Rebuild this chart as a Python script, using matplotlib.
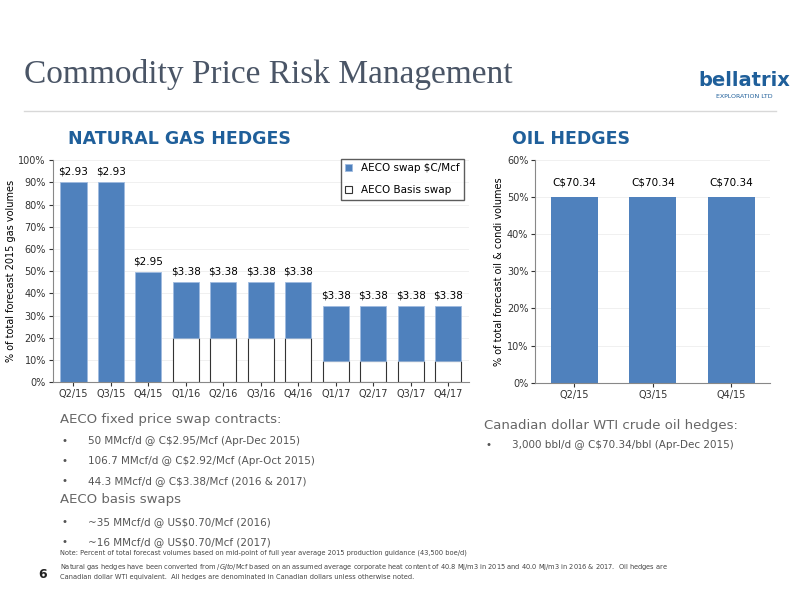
import matplotlib
matplotlib.use("Agg")
import matplotlib.pyplot as plt
import numpy as np

gas_q = ["Q2/15","Q3/15","Q4/15","Q1/16","Q2/16","Q3/16","Q4/16","Q1/17","Q2/17","Q3/17","Q4/17"]
gas_total = [90,90,49.5,45,45,45,45,34.5,34.5,34.5,34.5]
gas_basis = [0,0,0,20,20,20,20,9.5,9.5,9.5,9.5]
gas_labels = ["$2.93","$2.93","$2.95","$3.38","$3.38","$3.38","$3.38","$3.38","$3.38","$3.38","$3.38"]
oil_q = ["Q2/15","Q3/15","Q4/15"]
oil_vals = [50,50,50]
oil_labels = ["C$70.34","C$70.34","C$70.34"]

BLUE = "#4f81bd"
fig = plt.figure(figsize=(8,6), dpi=100)
fig.patch.set_facecolor("white")
fig.text(0.03, 0.875, "Commodity Price Risk Management", family="Liberation Serif", fontsize=24, color="#4a5566", va="center")
fig.text(0.93, 0.865, "bellatrix", fontsize=14, color="#1f5f9a", ha="center", va="center", weight="bold")
fig.text(0.93, 0.84, "EXPLORATION LTD", fontsize=4.5, color="#1f5f9a", ha="center", va="center")
fig.add_artist(plt.Line2D([0.03,0.97],[0.815,0.815], color="#d8d8d8", lw=1))
fig.text(0.085, 0.768, "NATURAL GAS HEDGES", fontsize=12.5, weight="bold", color="#1f5f9a", va="center")
fig.text(0.64, 0.768, "OIL HEDGES", fontsize=12.5, weight="bold", color="#1f5f9a", va="center")

def style(ax, ylabel):
    for s in ["top","right"]:
        ax.spines[s].set_visible(False)
    ax.spines["left"].set_color("#888888"); ax.spines["bottom"].set_color("#888888")
    ax.yaxis.grid(True, color="#eeeeee", lw=0.6); ax.set_axisbelow(True)
    ax.set_ylabel(ylabel, fontsize=7, labelpad=2)
    ax.tick_params(labelsize=7, length=3, colors="#333333", pad=2)
    ax.yaxis.set_major_formatter(matplotlib.ticker.FuncFormatter(lambda v,p: f"{v:.0f}%"))

ax = fig.add_axes([0.066, 0.363, 0.52, 0.37])
x = np.arange(len(gas_q))
swap = np.array(gas_total) - np.array(gas_basis)
ax.bar(x, gas_basis, width=0.7, color="white", edgecolor="#333333", lw=0.8, label="AECO Basis swap")
ax.bar(x, swap, bottom=gas_basis, width=0.7, color=BLUE, edgecolor="#9fbbe0", lw=0.6, label="AECO swap $C/Mcf")
for i, t in enumerate(gas_labels):
    ax.text(x[i], gas_total[i]+2.5, t, ha="center", va="bottom", fontsize=7.5)
ax.set_xticks(x, gas_q); ax.set_xlim(-0.55, len(gas_q)-0.45)
ax.set_ylim(0, 100); ax.set_yticks(range(0,101,10))
style(ax, "% of total forecast 2015 gas volumes")
h, l = ax.get_legend_handles_labels()
ax.legend(h[::-1], l[::-1], loc="upper right", bbox_to_anchor=(1.0, 1.03), fontsize=7.5, frameon=True, fancybox=False, edgecolor="#333333", handlelength=0.7, labelspacing=1.2)

ax2 = fig.add_axes([0.669, 0.362, 0.294, 0.372])
x2 = np.arange(len(oil_q))
ax2.bar(x2, oil_vals, width=0.6, color=BLUE)
for i, t in enumerate(oil_labels):
    ax2.text(x2[i], oil_vals[i]+2.5, t, ha="center", va="bottom", fontsize=7.5)
ax2.set_xticks(x2, oil_q); ax2.set_xlim(-0.5, 2.5)
ax2.set_ylim(0, 60); ax2.set_yticks(range(0,61,10))
style(ax2, "% of total forecast oil & condi volumes")

G = "#555555"
fig.text(0.075, 0.30, "AECO fixed price swap contracts:", fontsize=9.5, color="#666666", va="center")
lines = [(0.265,"50 MMcf/d @ C$2.95/Mcf (Apr-Dec 2015)"),(0.232,"106.7 MMcf/d @ C$2.92/Mcf (Apr-Oct 2015)"),(0.198,"44.3 MMcf/d @ C$3.38/Mcf (2016 & 2017)")]
for y, t in lines:
    fig.text(0.077, y, "•", fontsize=7.5, color=G, va="center"); fig.text(0.11, y, t, fontsize=7.5, color=G, va="center")
fig.text(0.075, 0.167, "AECO basis swaps", fontsize=9.5, color="#666666", va="center")
for y, t in [(0.13,"~35 MMcf/d @ US$0.70/Mcf (2016)"),(0.097,"~16 MMcf/d @ US$0.70/Mcf (2017)")]:
    fig.text(0.077, y, "•", fontsize=7.5, color=G, va="center"); fig.text(0.11, y, t, fontsize=7.5, color=G, va="center")
fig.text(0.605, 0.29, "Canadian dollar WTI crude oil hedges:", fontsize=9.5, color="#666666", va="center")
fig.text(0.607, 0.258, "•", fontsize=7.5, color=G, va="center"); fig.text(0.64, 0.258, "3,000 bbl/d @ C$70.34/bbl (Apr-Dec 2015)", fontsize=7.5, color=G, va="center")
fn = ("Note: Percent of total forecast volumes based on mid-point of full year average 2015 production guidance (43,500 boe/d)\n"
      "Natural gas hedges have been converted from $/GJ to $/Mcf based on an assumed average corporate heat content of 40.8 Mj/m3 in 2015 and 40.0 Mj/m3 in 2016 & 2017.  Oil hedges are\n"
      "Canadian dollar WTI equivalent.  All hedges are denominated in Canadian dollars unless otherwise noted.")
fig.text(0.075, 0.035, fn, fontsize=4.8, color="#444444", linespacing=1.5)
fig.text(0.048, 0.036, "6", fontsize=9, weight="bold", color="#222222")
fig.savefig("out.png", dpi=100)
